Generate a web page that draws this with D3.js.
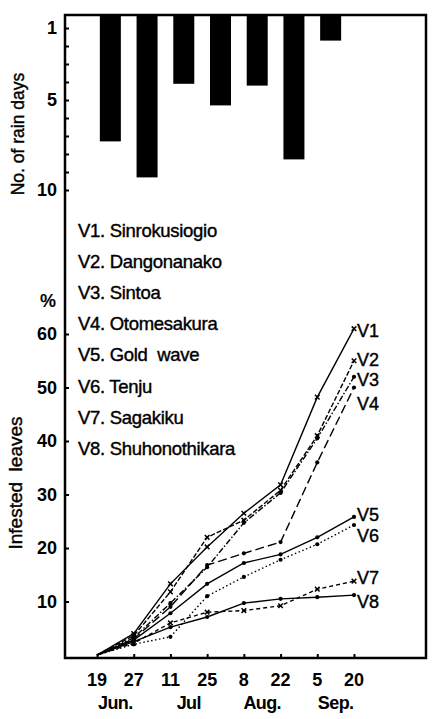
<!DOCTYPE html>
<html>
<head>
<meta charset="utf-8">
<script src="https://cdn.jsdelivr.net/npm/d3@7"></script>
<style>
  html, body { margin: 0; padding: 0; background: #fff; }
  svg { display: block; }
  text { font-family: "Liberation Sans", Arial, sans-serif; fill: #000; }
</style>
</head>
<body>
<svg id="chart" width="432" height="719"></svg>
<script>
// ---------------- data ----------------
const dates = ["19", "27", "11", "25", "8", "22", "5", "20"];
const months = ["Jun.", "Jul", "Aug.", "Sep."];
const monthFirstDate = ["19", "11", "8", "5"];
const monthLastDate = ["27", "25", "22", "20"];

const rainPeriods = ["p1", "p2", "p3", "p4", "p5", "p6", "p7"];
const rainDays = [7.3, 9.3, 4.1, 5.3, 4.2, 8.3, 1.7];
const rainTicks = [1, 5, 10];
const rainMinorTicks = [1, 2, 3, 4, 5, 6, 7, 8, 9, 10];

const leafTicks = [10, 20, 30, 40, 50, 60];

const seriesNames = ["V1", "V2", "V3", "V4", "V5", "V6", "V7", "V8"];
const varietyNames = ["Sinrokusiogio", "Dangonanako", "Sintoa", "Otomesakura",
                      "Gold  wave", "Tenju", "Sagakiku", "Shuhonothikara"];

const v1 = [0, 4.0, 13.3, 20.2, 26.5, 31.8, 48.2, 61.0];
const v2 = [0, 3.6, 11.8, 22.0, 25.2, 30.8, 41.0, 55.0];
const v3 = [0, 3.2, 9.7, 16.4, 24.7, 30.3, 40.5, 52.0];
const v4 = [0, 3.0, 9.0, 16.8, 19.0, 21.1, 36.0, 50.0];
const v5 = [0, 2.8, 7.8, 13.3, 17.2, 18.8, 22.0, 25.8];
const v6 = [0, 2.0, 3.4, 11.0, 14.6, 17.8, 20.7, 24.3];
const v7 = [0, 2.2, 6.0, 8.0, 8.3, 9.2, 12.3, 13.8];
const v8 = [0, 2.5, 5.2, 7.1, 9.7, 10.5, 10.8, 11.2];
const seriesValues = [v1, v2, v3, v4, v5, v6, v7, v8];

// ---------------- styles ----------------
const lineDash = ["none", "5,2", "6,2,1.5,2", "9,4", "none", "1.5,2.5", "4,3", "none"];
const markerType = ["x", "x", "dot", "dot", "dot", "dot", "x", "dot"];
const labelDy = [8, 5, 9, 22, 4, 17, 3, 13];

// ---------------- layout ----------------
const svg = d3.select("#chart");
const frame = { left: 65, right: 426, top: 15, bottom: 658 };

const x = d3.scalePoint().domain(dates).range([97, 354]);
const yRain = d3.scaleLinear().domain([1, 10]).range([28, 190]);
const yLeaf = d3.scaleLinear().domain([0, 60]).range([655, 334]);

// ---------------- rain bars ----------------
const barW = 21;
svg.append("g").selectAll("rect")
  .data(rainDays)
  .join("rect")
  .attr("x", (d, i) => (x(dates[i]) + x(dates[i + 1])) / 2 - 5 - barW / 2)
  .attr("y", frame.top)
  .attr("width", barW)
  .attr("height", d => yRain(d) - frame.top)
  .attr("fill", "#000");

// ---------------- frame ----------------
svg.append("rect")
  .attr("x", frame.left).attr("y", frame.top)
  .attr("width", frame.right - frame.left)
  .attr("height", frame.bottom - frame.top)
  .attr("fill", "none").attr("stroke", "#000").attr("stroke-width", 2.5);

// rain axis (ticks inward)
const rainAxis = d3.axisRight(yRain).tickValues(rainMinorTicks).tickSize(4).tickFormat("");
const ga = svg.append("g").attr("transform", `translate(${frame.left},0)`).call(rainAxis);
ga.select(".domain").remove();
ga.selectAll("line").attr("stroke-width", 2);

svg.append("g").selectAll("text")
  .data(rainTicks).join("text")
  .attr("x", frame.left - 8)
  .attr("y", d => yRain(d) + 6)
  .attr("text-anchor", "end")
  .attr("font-size", 18).attr("font-weight", "bold")
  .text(d => d);

svg.append("text")
  .attr("transform", "translate(24,134) rotate(-90)")
  .attr("text-anchor", "middle")
  .attr("font-size", 17.5)
  .attr("stroke", "#000").attr("stroke-width", 0.4)
  .text("No. of rain days");

// ---------------- leaf axis ----------------
const leafAxis = d3.axisRight(yLeaf).tickValues(leafTicks).tickSize(4).tickFormat("");
const gl = svg.append("g").attr("transform", `translate(${frame.left},0)`).call(leafAxis);
gl.select(".domain").remove();
gl.selectAll("line").attr("stroke-width", 2);

svg.append("g").selectAll("text")
  .data(leafTicks).join("text")
  .attr("x", frame.left - 8)
  .attr("y", d => yLeaf(d) + 6)
  .attr("text-anchor", "end")
  .attr("font-size", 18).attr("font-weight", "bold")
  .text(d => d);

svg.append("text")
  .attr("x", frame.left - 9).attr("y", 307)
  .attr("text-anchor", "end")
  .attr("font-size", 18).attr("font-weight", "bold")
  .text("%");

svg.append("text")
  .attr("transform", "translate(22,483) rotate(-90)")
  .attr("text-anchor", "middle")
  .attr("font-size", 19)
  .attr("stroke", "#000").attr("stroke-width", 0.4)
  .style("white-space", "pre")
  .text("Infested  leaves");

// x axis
const xAxis = d3.axisTop(x).tickSize(4).tickFormat("");
const gx = svg.append("g").attr("transform", `translate(0,${frame.bottom})`).call(xAxis);
gx.select(".domain").remove();
gx.selectAll("line").attr("stroke-width", 2);

svg.append("g").selectAll("text")
  .data(dates).join("text")
  .attr("x", d => x(d))
  .attr("y", 686)
  .attr("text-anchor", "middle")
  .attr("font-size", 18).attr("font-weight", "bold")
  .text(d => d);

svg.append("g").selectAll("text")
  .data(months).join("text")
  .attr("x", (d, i) => (x(monthFirstDate[i]) + x(monthLastDate[i])) / 2)
  .attr("y", 709)
  .attr("text-anchor", "middle")
  .attr("font-size", 18).attr("font-weight", "bold")
  .attr("letter-spacing", -0.6)
  .text(d => d);

// ---------------- legend ----------------
svg.append("g").selectAll("text")
  .data(varietyNames).join("text")
  .attr("x", 78)
  .attr("y", (d, i) => 237 + i * 31.1)
  .attr("font-size", 18.5)
  .attr("letter-spacing", -0.3)
  .attr("stroke", "#000").attr("stroke-width", 0.4)
  .style("white-space", "pre")
  .text((d, i) => `${seriesNames[i]}. ${d}`);

// ---------------- lines ----------------
const line = d3.line().x((d, i) => x(dates[i])).y(d => yLeaf(d));
const gLines = svg.append("g");
seriesValues.forEach((vals, s) => {
  gLines.append("path")
    .attr("d", line(vals))
    .attr("fill", "none")
    .attr("stroke", "#000")
    .attr("stroke-width", 1.4)
    .attr("stroke-dasharray", lineDash[s]);
  const pts = vals.slice(1).map((v, i) => ({ cx: x(dates[i + 1]), cy: yLeaf(v) }));
  if (markerType[s] === "dot") {
    gLines.selectAll(null).data(pts).join("circle")
      .attr("cx", d => d.cx).attr("cy", d => d.cy).attr("r", 2.1).attr("fill", "#000");
  } else {
    gLines.selectAll(null).data(pts).join("path")
      .attr("d", d => `M${d.cx - 2.3},${d.cy - 2.3}L${d.cx + 2.3},${d.cy + 2.3}M${d.cx - 2.3},${d.cy + 2.3}L${d.cx + 2.3},${d.cy - 2.3}`)
      .attr("stroke", "#000").attr("stroke-width", 1.5);
  }
  gLines.append("text")
    .attr("x", x(dates[dates.length - 1]) + 3)
    .attr("y", yLeaf(vals[vals.length - 1]) + labelDy[s])
    .attr("font-size", 18)
    .attr("stroke", "#000").attr("stroke-width", 0.4)
    .text(seriesNames[s]);
});
</script>
</body>
</html>
